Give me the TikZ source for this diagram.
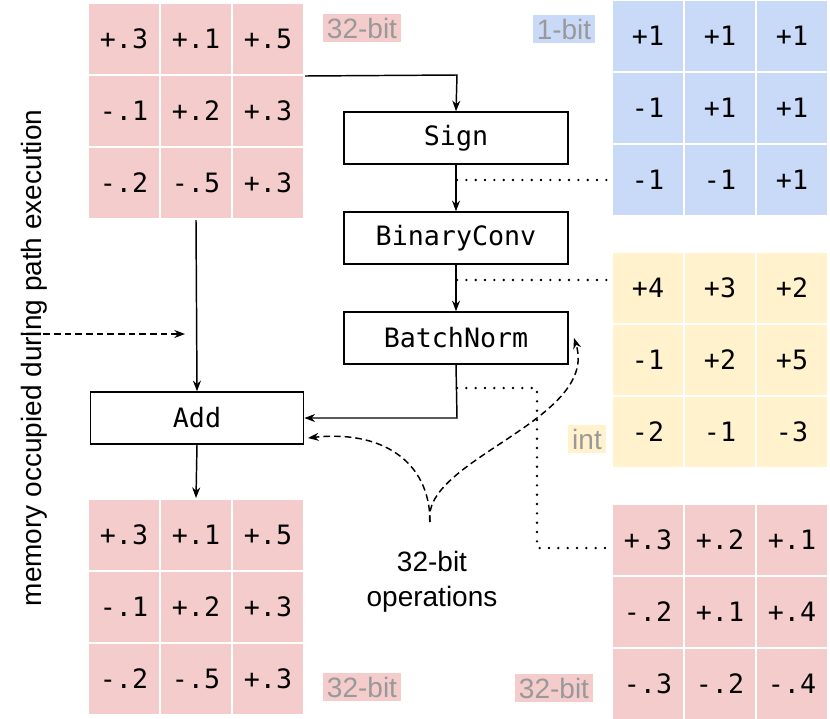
\documentclass[tikz,border=0pt]{standalone}
\usepackage{fontspec}
\setmainfont{Liberation Sans}
\setmonofont{DejaVu Sans Mono}
\usetikzlibrary{arrows.meta}
\definecolor{pk}{HTML}{F4CCCC}
\definecolor{bl}{HTML}{C9DAF8}
\definecolor{yl}{HTML}{FFF2CC}
\definecolor{gt}{HTML}{999999}
\begin{document}
\begin{tikzpicture}[x=0.75pt,y=-0.75pt,
  cell/.style={draw=white,line width=1.5pt,minimum width=54pt,minimum height=54pt,inner sep=0pt,font=\ttfamily\fontsize{20}{24}\selectfont},
  op/.style={draw,line width=1.1pt,fill=white,minimum width=168pt,minimum height=39pt,inner sep=0pt,font=\ttfamily\fontsize{20}{24}\selectfont},
  tag/.style={inner sep=3pt,text=gt,font=\fontsize{21}{24}\selectfont},
  arr/.style={-{Stealth[length=8pt,width=6pt]},line width=1.1pt},
  dots/.style={line width=2pt,line cap=round,dash pattern=on 0pt off 7pt},
  dsh/.style={-{Stealth[length=8pt,width=6pt]},line width=1.1pt,dash pattern=on 5pt off 3pt}]
\useasboundingbox (0,0) rectangle (830,718);
\foreach \v [count=\i from 0] in {+.3,+.1,+.5,-.1,+.2,+.3,-.2,-.5,+.3}{
  \pgfmathtruncatemacro\c{mod(\i,3)}\pgfmathtruncatemacro\r{div(\i,3)}
  \node[cell,fill=pk] (a\i) at (124+72*\c,39+72*\r) {\v};}
\foreach \v [count=\i from 0] in {+1,+1,+1,-1,+1,+1,-1,-1,+1}{
  \pgfmathtruncatemacro\c{mod(\i,3)}\pgfmathtruncatemacro\r{div(\i,3)}
  \node[cell,fill=bl] (b\i) at (648+72*\c,36+72*\r) {\v};}
\foreach \v [count=\i from 0] in {+4,+3,+2,-1,+2,+5,-2,-1,-3}{
  \pgfmathtruncatemacro\c{mod(\i,3)}\pgfmathtruncatemacro\r{div(\i,3)}
  \node[cell,fill=yl] (y\i) at (648+72*\c,288+72*\r) {\v};}
\foreach \v [count=\i from 0] in {+.3,+.1,+.5,-.1,+.2,+.3,-.2,-.5,+.3}{
  \pgfmathtruncatemacro\c{mod(\i,3)}\pgfmathtruncatemacro\r{div(\i,3)}
  \node[cell,fill=pk] (c\i) at (124+72*\c,535+72*\r) {\v};}
\foreach \v [count=\i from 0] in {+.3,+.2,+.1,-.2,+.1,+.4,-.3,-.2,-.4}{
  \pgfmathtruncatemacro\c{mod(\i,3)}\pgfmathtruncatemacro\r{div(\i,3)}
  \node[cell,fill=pk] (d\i) at (648+72*\c,540+72*\r) {\v};}
\node[tag,fill=pk] (t1) at (362,28) {32-bit};
\node[tag,fill=bl] (t2) at (564,29) {1-bit};
\node[tag,fill=yl] (t3) at (587,439) {int};
\node[tag,fill=pk] (t4) at (362,687) {32-bit};
\node[tag,fill=pk] (t5) at (554,688) {32-bit};
\node[op] (sign) at (456,138) {Sign};
\node[op] (bconv) at (456,238) {BinaryConv};
\node[op] (bn) at (456,338) {BatchNorm};
\node[op,minimum width=160pt] (add) at (197,418) {Add};
\coordinate (k1) at (457,75);
\draw[arr] (a2.east |- a2.south) -- (k1) -- (sign.north);
\draw[arr] (sign) -- (bconv);
\draw[arr] (bconv) -- (bn);
\coordinate (k2) at (457,418);
\draw[arr] (bn.south) -- (k2) -- (add.east);
\draw[arr] (a7.south) -- (add.north);
\draw[arr] (add.south) -- (c1.north);
\coordinate (dd1) at (22,334); \coordinate (dd2) at (185,334);
\draw[dsh] (dd1) -- (dd2);
\coordinate (p1) at (457,180); \coordinate (p2) at (457,280);
\coordinate (p3) at (457,388); \coordinate (p4) at (537,388); \coordinate (p5) at (537,548);
\draw[dots] (p1) -- (b6.west |- p1);
\draw[dots] (p2) -- (y0.west |- p2);
\draw[dots] (p3) -- (p4) -- (p5) -- (d0.west |- p5);
\node[font=\fontsize{21}{26}\selectfont,align=center] (ops) at (432,582) {32-bit\\operations};
\coordinate (q) at (430,522);
\draw[dsh] (q) .. controls (420,460) and (600,420) .. (574,338);
\draw[dsh] (q) .. controls (430,460) and (380,430) .. (308,438);
\node[rotate=90,font=\fontsize{21}{26}\selectfont] (mem) at (34,358) {memory occupied during path execution};
\end{tikzpicture}
\end{document}
